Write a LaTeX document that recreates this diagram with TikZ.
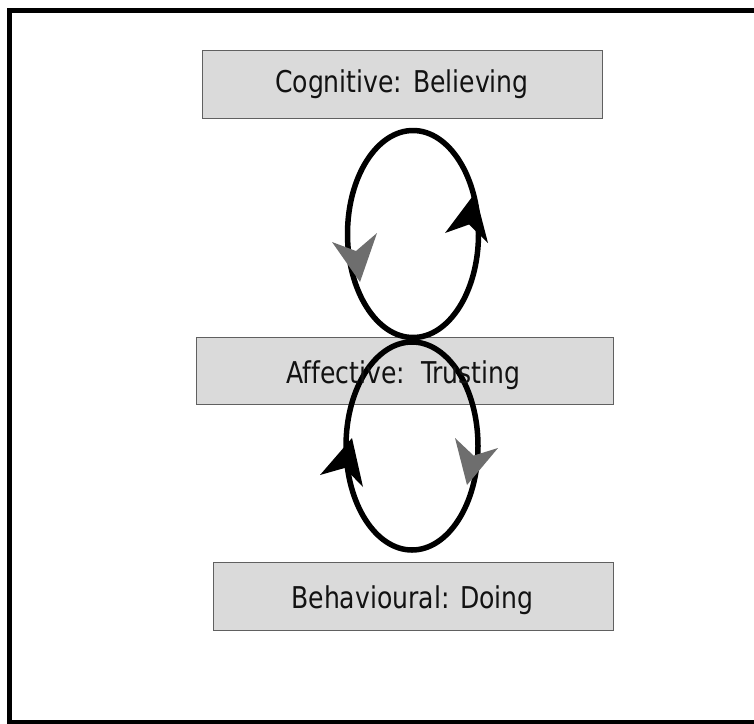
\documentclass[tikz,border=0pt]{standalone}
\usepackage{fontspec}
\newfontfamily\boxfont[Ligatures=NoCommon, FakeStretch=0.93]{DejaVu Sans Condensed}
\definecolor{boxfill}{HTML}{DADADA}
\definecolor{boxedge}{HTML}{606060}
\definecolor{darkhead}{HTML}{000000}
\definecolor{lighthead}{HTML}{6E6E6E}
\tikzset{
  stagebox/.style={draw=boxedge, line width=0.8pt, fill=boxfill, rectangle, inner sep=0pt},
  stagetext/.style={anchor=base, inner sep=0pt, font=\boxfont\fontsize{30}{34}\selectfont, text=black!93},
  loop/.style={line width=5.5pt, draw=black},
  frame/.style={line width=5pt, draw=black}
}
\begin{document}
\begin{tikzpicture}[x=1pt, y=-1pt]
  \useasboundingbox (0,0) rectangle (754,723);
  \clip (0,0) rectangle (754,723);
  \fill[white] (0,0) rectangle (754,723);
  % slide frame (its right edge runs off the page)
  \draw[frame] (9.5,10) rectangle (780,722);

  % the three stages
  \node[stagebox, minimum width=400pt, minimum height=68pt] (cog) at (402,84.5) {};
  \node[stagebox, minimum width=417pt, minimum height=67pt] (aff) at (404.5,370.5) {};
  \node[stagebox, minimum width=400pt, minimum height=68pt] (beh) at (413,596) {};

  % the two loops forming a figure eight
  \draw[loop] (413,234) ellipse [x radius=65.5, y radius=103.5];
  \draw[loop] (412,446) ellipse [x radius=66, y radius=104];

  % arrow heads on the upper loop
  \fill[darkhead] (475,193) -- (445,233) -- (469,224.5) -- (488,243) -- cycle;
  \fill[lighthead] (360,282) -- (332,242) -- (356,251) -- (377,233) -- cycle;
  % arrow heads on the lower loop
  \fill[darkhead] (352,438) -- (320,475) -- (344.6,468) -- (363,487) -- cycle;
  \fill[lighthead] (467,485) -- (455,438) -- (473.6,455.6) -- (498,448) -- cycle;

  % stage labels
  \node[stagetext] (cogT) at (402,92) {Cognitive: Believing};
  \node[stagetext] (affT) at (403.5,383) {Affective:\ \ Trusting};
  \node[stagetext] (behT) at (412.5,608) {Behavioural: Doing};
\end{tikzpicture}
\end{document}
